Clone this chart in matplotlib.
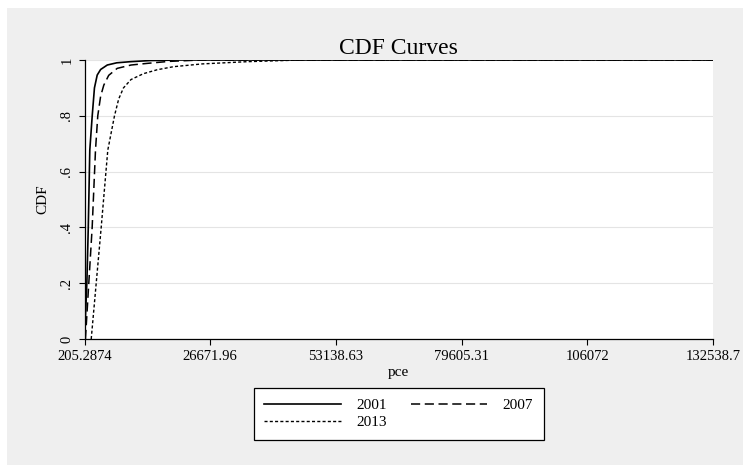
import numpy as np
import matplotlib.pyplot as plt
from matplotlib.patches import Rectangle

plt.rcParams['font.family'] = ['Liberation Serif', 'DejaVu Serif']

# cumulative share of households by per-capita expenditure (pce)
pce_2001 = [205.2874, 700, 1000, 1320, 1830, 2300, 2880, 3600, 5000, 7000,
            9900, 14000, 20000, 132538.7]
cdf_2001 = [0.0, 0.2, 0.4, 0.677, 0.80, 0.90, 0.946, 0.966, 0.982, 0.99,
            0.994, 0.998, 1.0, 1.0]

pce_2007 = [400, 1110, 1820, 2520, 3000, 3600, 4270, 5300, 7090, 10000,
            13460, 18000, 24600, 132538.7]
cdf_2007 = [0.0, 0.2, 0.4, 0.677, 0.80, 0.87, 0.91, 0.945, 0.97, 0.982,
            0.988, 0.995, 1.0, 1.0]

pce_2013 = [1620, 2670, 3720, 5110, 6520, 7400, 8410, 10000, 12620, 15500,
            18930, 25000, 34500, 45700, 132538.7]
cdf_2013 = [0.0, 0.2, 0.4, 0.677, 0.80, 0.86, 0.90, 0.93, 0.951, 0.965,
            0.976, 0.986, 0.994, 1.0, 1.0]

xticks = [205.2874, 26671.96, 53138.63, 79605.31, 106072, 132538.7]
xtick_labels = ['205.2874', '26671.96', '53138.63', '79605.31', '106072', '132538.7']
yticks = [0, 0.2, 0.4, 0.6, 0.8, 1.0]
ytick_labels = ['0', '.2', '.4', '.6', '.8', '1']

fig = plt.figure(figsize=(7.43, 4.65), dpi=100)
fig.patch.set_facecolor('white')
# grey graph region with a thin white border on top and left
fig.patches.append(Rectangle((7 / 743, 0), 1, 1 - 8 / 465, transform=fig.transFigure,
                             facecolor='#efefef', edgecolor='none', zorder=-10))

ax = fig.add_axes([84.5 / 743, 126 / 465, (713 - 84.5) / 743, (339 - 60) / 465])
ax.set_facecolor('white')

l1, = ax.plot(pce_2001, cdf_2001, color='black', lw=1.2, ls='-', label='2001')
l2, = ax.plot(pce_2007, cdf_2007, color='black', lw=1.1, ls=(0, (6, 3)), label='2007')
l3, = ax.plot(pce_2013, cdf_2013, color='black', lw=1.0, ls=(0, (2.2, 1.6)), label='2013')

ax.set_xlim(xticks[0], xticks[-1])
ax.set_ylim(0, 1)
ax.set_xticks(xticks)
ax.set_xticklabels(xtick_labels, fontsize=10.5)
ax.set_yticks(yticks)
ax.set_yticklabels(ytick_labels, fontsize=10.5, rotation=90, va='center')
ax.tick_params(direction='out', length=4.5, width=0.8, color='black')
ax.grid(axis='y', color='#e4e4e4', lw=0.8)
ax.set_axisbelow(True)

for s in ['top', 'right']:
    ax.spines[s].set_visible(False)
for s in ['left', 'bottom']:
    ax.spines[s].set_linewidth(0.9)

ax.set_title('CDF Curves', fontsize=17, pad=4)
ax.set_xlabel('pce', fontsize=11, labelpad=2)
ax.set_ylabel('CDF', fontsize=11, labelpad=8)

# legend rows read 2001, 2007 / 2013
leg = ax.legend([l1, l3, l2], ['2001', '2013', '2007'], loc='upper center',
                bbox_to_anchor=(0.5, -0.175), ncol=2, fontsize=11, frameon=True,
                fancybox=False, framealpha=1, handlelength=5.0,
                handletextpad=1.0, columnspacing=1.6, borderpad=0.7,
                labelspacing=0.2, borderaxespad=0)
leg.get_frame().set_edgecolor('black')
leg.get_frame().set_linewidth(0.9)

fig.savefig('out.png', dpi=100, facecolor=fig.get_facecolor())
